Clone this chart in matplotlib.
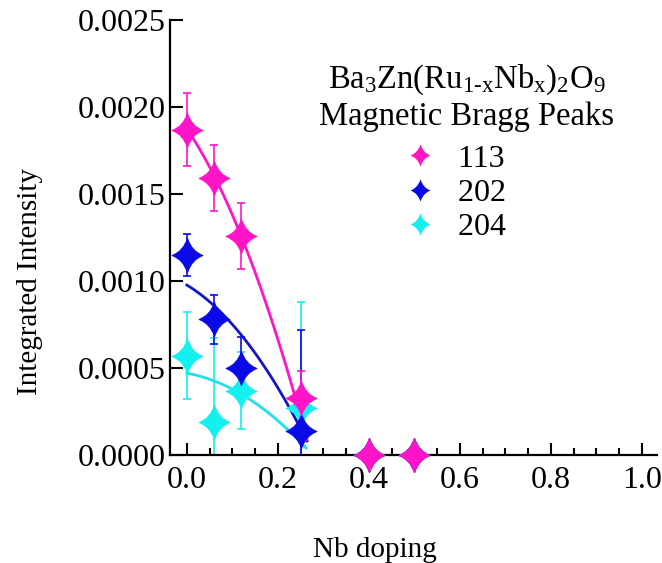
import numpy as np
import matplotlib
matplotlib.use('Agg')
import matplotlib.pyplot as plt
from matplotlib.path import Path
from matplotlib.lines import Line2D
from matplotlib.ticker import MultipleLocator, FormatStrFormatter

plt.rcParams['font.family'] = ['Liberation Serif', 'DejaVu Serif']
plt.rcParams['mathtext.fontset'] = 'custom'
plt.rcParams['mathtext.rm'] = 'Liberation Serif'
plt.rcParams['mathtext.it'] = 'Liberation Serif:italic'

# Nb doping values
doping = [0.0, 0.06, 0.12, 0.25, 0.4, 0.5]

# integrated intensity of each magnetic Bragg peak
i113 = [0.00187, 0.00159, 0.00126, 0.00033, 0.0, 0.0]
e113 = [0.00021, 0.00019, 0.00019, 0.00015, 0.0, 0.0]
i202 = [0.00115, 0.00078, 0.00050, 0.00014, 0.0, 0.0]
e202 = [0.00012, 0.00014, 0.00018, 0.00058, 0.0, 0.0]
i204 = [0.00057, 0.00019, 0.00037, 0.00027, 0.0, 0.0]
e204 = [0.00025, 0.00048, 0.00022, 0.00061, 0.0, 0.0]

# points
fit_x113 = [0.0, 0.0625, 0.125, 0.189, 0.264]
fit_y113 = [0.00187, 0.00159, 0.00125, 0.00072, 0.00010]
fit_x202 = [0.0, 0.088, 0.16, 0.264]
fit_y202 = [0.00099, 0.00074, 0.00059, 0.00007]
fit_x204 = [0.0, 0.138, 0.262]
fit_y204 = [0.00047, 0.00032, 0.00004]

labels = ['113', '202', '204']
colors = ['#ff14c8', '#0a0ae6', '#14f0f0']
line_colors = ['#ff14c8', '#1414c8', '#20e0e8']

# 4-pointed concave star marker (a bit taller than wide)
c = 0.24
w = 0.9
star = Path([(0, 1), (c, c), (w, 0), (c, -c), (0, -1), (-c, -c), (-w, 0), (-c, c), (0, 1), (0, 1)],
            [Path.MOVETO, Path.CURVE3, Path.CURVE3, Path.CURVE3, Path.CURVE3,
             Path.CURVE3, Path.CURVE3, Path.CURVE3, Path.CURVE3, Path.CLOSEPOLY])

fig = plt.figure(figsize=(6.62, 5.63), dpi=100)
ax = fig.add_axes([170/662, 1 - 455/563, 487/662, 435/563])

series = [(i204, e204, fit_x204, fit_y204, 2), (i202, e202, fit_x202, fit_y202, 1),
          (i113, e113, fit_x113, fit_y113, 0)]
for vals, errs, fx, fy, k in series:
    coef = np.polyfit(fx, fy, 2)
    xs = np.linspace(fx[0], fx[-1], 100)
    ax.plot(xs, np.polyval(coef, xs), color=line_colors[k], lw=2, zorder=2 + (2 - k))
    ax.errorbar(doping, vals, yerr=errs, fmt='none', ecolor=colors[k], elinewidth=1.2,
                capsize=3, capthick=1.2, zorder=2 + (2 - k))
    ax.plot(doping, vals, linestyle='none', marker=star, markersize=24.5,
            color=colors[k], markeredgecolor=colors[k], markeredgewidth=0.8,
            zorder=5 + (2 - k), clip_on=False)

ax.set_xlim(-0.037, 1.033)
ax.set_ylim(0, 0.0025)
ax.xaxis.set_major_locator(MultipleLocator(0.2))
ax.xaxis.set_minor_locator(MultipleLocator(0.05))
ax.yaxis.set_major_locator(MultipleLocator(0.0005))
ax.yaxis.set_major_formatter(FormatStrFormatter('%.4f'))
ax.xaxis.set_major_formatter(FormatStrFormatter('%.1f'))
ax.tick_params(which='major', direction='in', length=9, width=1.5, labelsize=23, pad=8)
ax.tick_params(which='minor', direction='in', length=5, width=1.5)
ax.tick_params(axis='y', which='major', pad=3)
for s in ['top', 'right']:
    ax.spines[s].set_visible(False)
for s in ['left', 'bottom']:
    ax.spines[s].set_linewidth(1.6)

ax.set_xlabel('Nb doping', fontsize=21)
ax.xaxis.set_label_coords(0.42, -0.218)
ax.xaxis.label.set_va('center')
ax.set_ylabel('Integrated Intensity', fontsize=21)
ax.yaxis.set_label_coords(-0.287, 0.398)
ax.yaxis.label.set_va('center')

handles = [Line2D([], [], linestyle='none', marker=star, markersize=16, color=col, markeredgewidth=0)
           for col in colors]
title = 'Ba$_3$Zn(Ru$_{\\mathrm{1\\text{-}x}}$Nb$_\\mathrm{x}$)$_2$O$_9$\nMagnetic Bragg Peaks'
leg = ax.legend(handles, [lab + '   ' for lab in labels], title=title, loc='upper center',
                bbox_to_anchor=(467/662, 1 - 34/563), bbox_transform=fig.transFigure,
                frameon=False, fontsize=23, title_fontsize=23.5, labelspacing=0.15,
                handlelength=1.0, handletextpad=0.7)
leg.get_title().set_multialignment('center')
leg._legend_box.sep = 8.5  # a little more room between title and entries

fig.savefig('out.png', dpi=100)
